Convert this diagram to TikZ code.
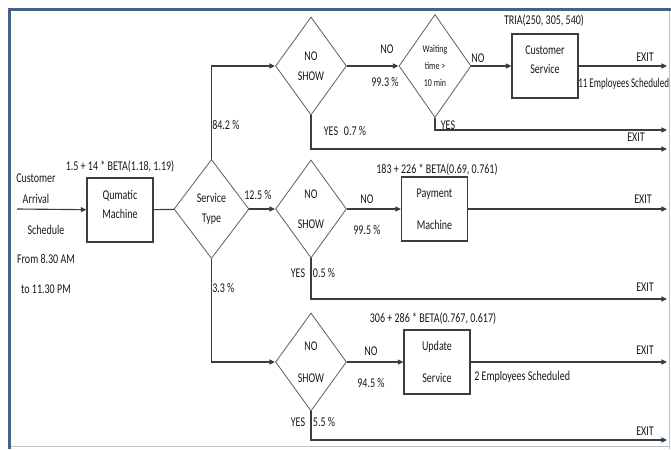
\documentclass[tikz,border=0pt]{standalone}
\usepackage{fontspec}
\setmainfont{Carlito}[FakeStretch=0.75]
\usetikzlibrary{arrows.meta,shapes.geometric}
\definecolor{frameblue}{RGB}{62,100,146}
\definecolor{framelight}{RGB}{178,196,220}
\definecolor{flowline}{RGB}{60,60,60}
\definecolor{shapeline}{RGB}{100,100,100}
\definecolor{inktext}{RGB}{25,25,25}

\begin{document}
\begin{tikzpicture}[x=0.025cm,y=-0.025cm,
    txt/.style={font=\fontsize{9.5}{10}\selectfont,text=inktext,inner sep=0pt,align=center},
    small/.style={font=\fontsize{7.5}{8}\selectfont},
    procbox/.style={txt,draw=flowline,line width=0.8pt,minimum width=1.65cm,minimum height=1.6cm},
    decision/.style={txt,diamond,draw=shapeline,line width=0.6pt,minimum width=1.775cm,minimum height=2.45cm},
    flow/.style={draw=flowline,line width=0.8pt},
    go/.style={flow,-{Triangle[length=4pt,width=3.6pt]}}]
  \useasboundingbox (0,0) rectangle (671,449);
  % frame
  \draw[framelight,line width=0.4pt] (11,446) -- (669,446);
  \draw[framelight,line width=0.7pt] (669,10) -- (669,449);
  \fill[frameblue] (8,8) rectangle (11,449);
  \fill[frameblue] (8,8) rectangle (671,10.5);

  % arrival
  \node[txt] (cust) at (36,189) {Customer\\[5pt]Arrival};
  \node[txt] (sched) at (46,259) {Schedule\\[11pt]From 8.30 AM\\[11pt]to 11.30 PM};
  \coordinate (start) at (17,209);

  % shapes
  \node[procbox] (qm) at (120,210) {Qumatic\\[3pt]Machine\\[-2pt]\mbox{}};
  \node[decision,minimum width=1.875cm,minimum height=2.475cm] (svc) at (211.5,209) {Service\\[4pt]Type};
  \node[decision] (ns1) at (311,66) {NO\\[4pt]SHOW};
  \node[decision] (ns2) at (311,209) {NO\\[11pt]SHOW};
  \node[decision] (ns3) at (311,362) {NO\\[13pt]SHOW};
  \node[decision,small,minimum width=1.8cm,minimum height=2.575cm] (wait) at (435,66) {Waiting\\[4pt]time >\\[4pt]10 min};
  \node[procbox] (cs) at (545,66) {Customer\\[3.5pt]Service\\[-1pt]\mbox{}};
  \node[procbox] (pay) at (434.5,209) {Payment\\[13pt]Machine};
  \node[procbox] (upd) at (437,362) {Update\\[13pt]Service};

  % exits
  \coordinate (end1) at (667,66);
  \coordinate (end1w) at (667,130);
  \coordinate (end1y) at (667,149);
  \coordinate (end2) at (667,209);
  \coordinate (end2y) at (667,299);
  \coordinate (end3) at (667,362);
  \coordinate (end3y) at (667,440);

  % connectors
  \draw[go] (start) -- (qm);
  \draw[flow] (qm) -- (svc);
  \draw[go] (svc.north) |- (ns1.west);
  \draw[go] (svc) -- (ns2);
  \draw[go] (svc.south) |- (ns3.west);
  \draw[go] (ns1) -- (wait);
  \draw[go] (wait) -- (cs);
  \draw[go] (cs) -- (end1);
  \draw[go] (wait.south) |- (end1w);
  \draw[go] (ns1.south) |- (end1y);
  \draw[go] (ns2) -- (pay);
  \draw[go] (pay) -- (end2);
  \draw[go] (ns2.south) |- (end2y);
  \draw[go] (ns3) -- (upd);
  \draw[go] (upd) -- (end3);
  \draw[go] (ns3.south) |- (end3y);

  % labels
  \node[txt] (qmdist) at (120,167) {1.5 + 14 * BETA(1.18, 1.19)};
  \node[txt,anchor=west] (p842) at (212,125) {84.2 \%};
  \node[txt] (p125) at (258,195) {12.5 \%};
  \node[txt,anchor=west] (p33) at (212,288) {3.3 \%};
  \node[txt] (no1) at (387,49) {NO};
  \node[txt] (p993) at (385,82) {99.3 \%};
  \node[txt] (no1w) at (478,58) {NO};
  \node[txt] (csdist) at (544,21) {TRIA(250, 305, 540)};
  \node[txt] (exit1) at (645,57) {EXIT};
  \node[txt,anchor=west] (cstaff) at (578,84) {\scalebox{0.9}[1]{11 Employees Scheduled}};
  \node[txt] (yesw) at (448,125) {YES};
  \node[txt] (exit1w) at (636,137) {EXIT};
  \node[txt] (yes1) at (331,131) {YES};
  \node[txt] (p07) at (355,131) {0.7 \%};
  \node[txt] (paydist) at (437,170) {183 + 226 * BETA(0.69, 0.761)};
  \node[txt] (no2) at (367,199) {NO};
  \node[txt] (p995) at (367,230) {99.5 \%};
  \node[txt] (exit2) at (643,199) {EXIT};
  \node[txt] (yes2) at (298,273) {YES};
  \node[txt] (p05) at (324,273) {0.5 \%};
  \node[txt] (exit2y) at (645,287) {EXIT};
  \node[txt] (upddist) at (433,319) {306 + 286 * BETA(0.767, 0.617)};
  \node[txt] (no3) at (371,351) {NO};
  \node[txt] (p945) at (371,383) {94.5 \%};
  \node[txt] (exit3) at (645,350) {EXIT};
  \node[txt,anchor=west] (ustaff) at (474,377) {2 Employees Scheduled};
  \node[txt] (yes3) at (298,422) {YES};
  \node[txt] (p55) at (324,422) {5.5 \%};
  \node[txt] (exit3y) at (645,431) {EXIT};
\end{tikzpicture}
\end{document}
